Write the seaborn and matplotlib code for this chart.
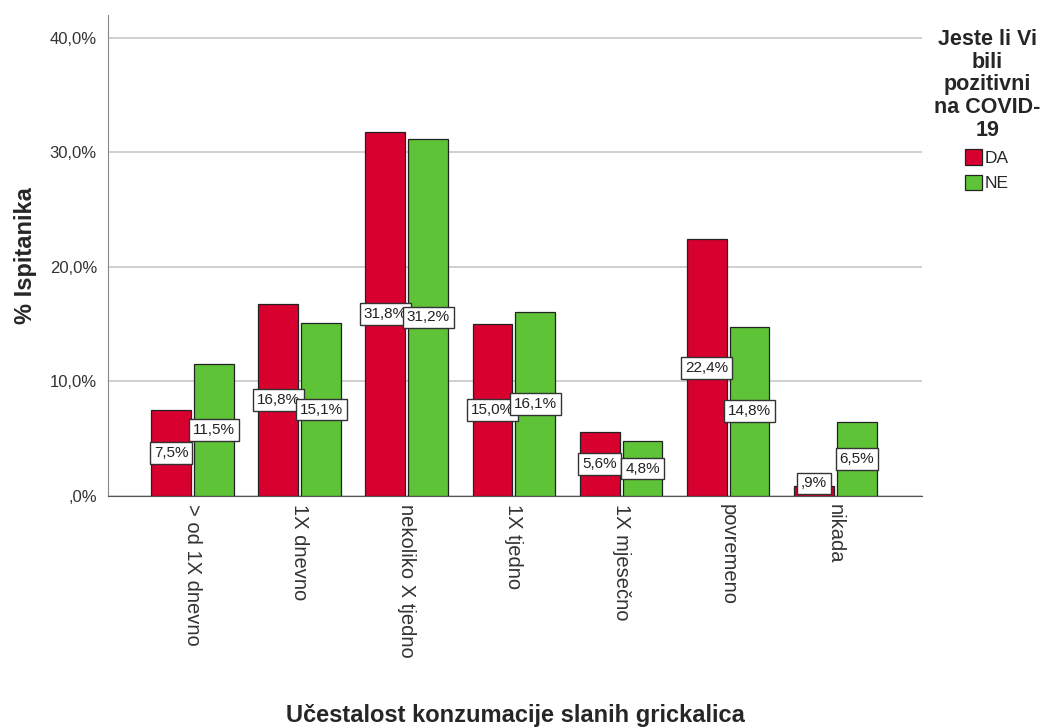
import numpy as np
import pandas as pd
import matplotlib.pyplot as plt
import seaborn as sns

kategorije = ["> od 1X dnevno", "1X dnevno", "nekoliko X tjedno", "1X tjedno",
              "1X mjesečno", "povremeno", "nikada"]
da = [7.5, 16.8, 31.8, 15.0, 5.6, 22.4, 0.9]
ne = [11.5, 15.1, 31.2, 16.1, 4.8, 14.8, 6.5]
grupe = ["DA", "NE"]
boje = ["#D7002E", "#5EC337"]

df = pd.DataFrame({
    "kat": kategorije * 2,
    "grupa": ["DA"] * len(da) + ["NE"] * len(ne),
    "pct": da + ne,
})

sns.set_style("white")
plt.rcParams['font.family'] = ['Liberation Sans', 'DejaVu Sans']

fig = plt.figure(figsize=(10.51, 7.27), dpi=100)
ax = fig.add_axes([108/1051, 1 - 496/727, (922-108)/1051, (496-15)/727])

sns.barplot(data=df, x="kat", y="pct", hue="grupa", hue_order=grupe,
            palette=boje, saturation=1, order=kategorije, width=0.8, gap=0.07,
            edgecolor="#222222", linewidth=0.9, ax=ax, legend=True, zorder=3)

# labels in the middle of bars
for cont in ax.containers:
    for bar in cont:
        h = bar.get_height()
        x = bar.get_x() + bar.get_width() / 2
        y = max(h / 2, 1.1)
        lab = f"{h:.1f}%".replace(".", ",")
        if lab.startswith("0"):
            lab = lab[1:]
        ax.text(x, y, lab, ha="center", va="center", fontsize=11, color="#222222",
                zorder=5,
                bbox=dict(boxstyle="square,pad=0.25", fc="white", ec="#333333", lw=1.0))

ax.set_ylim(0, 42)
ax.set_xlim(-0.79, 6.81)
ax.set_yticks([0, 10, 20, 30, 40])
ax.set_yticklabels([",0%", "10,0%", "20,0%", "30,0%", "40,0%"], fontsize=12, color="#333333")
ax.yaxis.grid(True, color="#c8c8c8", linewidth=1.2, zorder=0)
ax.set_axisbelow(True)
ax.tick_params(axis="both", length=0)
ax.tick_params(axis="y", pad=8)
ax.tick_params(axis="x", pad=6)
ax.set_xticks(range(len(kategorije)))
ax.set_xticklabels(kategorije, rotation=270, fontsize=14.5, color="#333333", va="top", ha="center")

for s in ["top", "right"]:
    ax.spines[s].set_visible(False)
ax.spines["left"].set_color("#888888")
ax.spines["bottom"].set_color("#555555")

ax.set_ylabel("% Ispitanika", fontsize=17, fontweight="bold", labelpad=9)
ax.set_xlabel("Učestalost konzumacije slanih grickalica", fontsize=17, fontweight="bold", labelpad=33)

leg = ax.legend(title="Jeste li Vi\nbili\npozitivni\nna COVID-\n19", loc="upper center",
                bbox_to_anchor=(1.08, 0.985), frameon=False, fontsize=12.5,
                title_fontproperties={"weight": "bold", "size": 15.5},
                handlelength=1.0, handleheight=1.0, handletextpad=0.15,
                labelspacing=0.5, borderaxespad=0.0)
leg.get_title().set_multialignment("center")
leg.get_title().set_linespacing(1.1)
leg._legend_box.align = "center"
for h in leg.legend_handles:
    h.set_edgecolor("#222222")

fig.savefig("out.png", dpi=100)
